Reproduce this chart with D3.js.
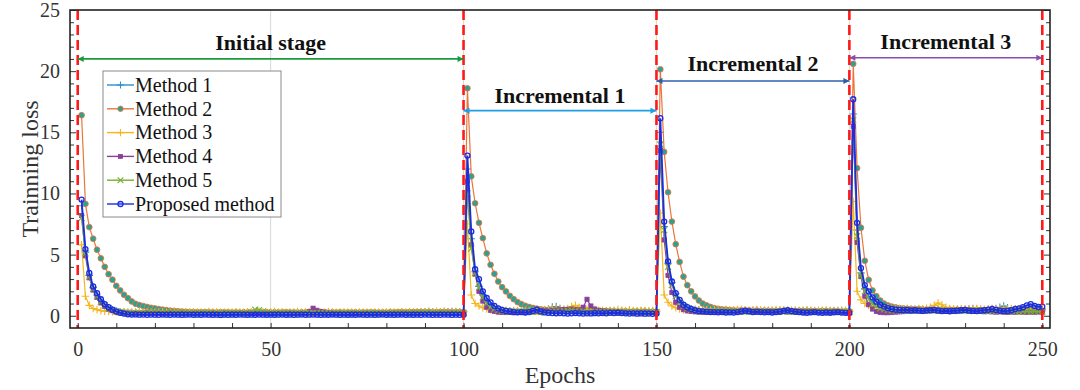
<!DOCTYPE html>
<html><head><meta charset="utf-8">
<script src="https://cdn.jsdelivr.net/npm/d3@7"></script>
<style>body{margin:0;background:#fff}svg{display:block}text{font-family:"Liberation Serif","Times New Roman",serif}</style>
</head><body>
<svg id="chart" width="1080" height="390"></svg>
<script>
// ---------- DATA ----------
const seriesNames = ["Method 1","Method 2","Method 3","Method 4","Method 5","Proposed method"];
const xTickLabels = [0,50,100,150,200,250];
const yTickLabels = [0,5,10,15,20,25];
const stageNames = ["Initial stage","Incremental 1","Incremental 2","Incremental 3"];
const stageStart = [0,100,150,200];
const stageEnd = [100,150,200,250];
const stageArrowLoss = [21.0,16.77,19.2,21.1];
const stageLabelLoss = [21.75,17.4,20.0,21.85];
const boundaryEpochs = [0,100,150,200,250];

const method1 = [
9.0,5.2,3.3,2.3,1.7,1.25,0.9,0.65,0.48,0.38,0.32,0.28,
0.27,0.26,0.28,0.3,0.35,0.45,0.5,0.4,
0.3,0.26,0.25,0.27,0.24,0.26,0.25,0.23,0.25,0.24,
0.25,0.23,0.24,0.26,0.23,0.25,0.24,0.22,0.25,0.23,
0.24,0.25,0.23,0.24,0.26,0.23,0.25,0.24,0.22,0.24,
0.23,0.25,0.24,0.22,0.24,0.25,0.23,0.24,0.26,0.23,
0.24,0.22,0.25,0.23,0.24,0.22,0.24,0.23,0.25,0.22,
0.24,0.23,0.22,0.24,0.23,0.25,0.24,0.22,0.23,0.24,
0.25,0.23,0.24,0.26,0.25,0.27,0.26,0.28,0.3,0.32,
0.34,0.33,0.35,0.32,0.34,0.33,0.35,0.34,0.33,0.35,
12.0,6.3,3.6,2.4,1.7,1.2,0.9,0.7,0.55,0.45,
0.4,0.38,0.4,0.36,0.38,0.35,0.37,0.4,0.45,0.42,
0.45,0.55,0.72,0.76,0.6,0.5,0.45,0.48,0.42,0.4,
0.42,0.38,0.4,0.37,0.39,0.36,0.38,0.4,0.37,0.35,
0.38,0.36,0.4,0.37,0.35,0.38,0.36,0.34,0.36,0.35,
15.0,7.3,4.3,2.7,1.8,1.25,0.9,0.7,0.58,0.5,
0.47,0.45,0.43,0.45,0.42,0.44,0.41,0.43,0.4,0.42,
0.44,0.41,0.43,0.4,0.42,0.45,0.41,0.43,0.4,0.42,
0.41,0.43,0.45,0.42,0.4,0.43,0.41,0.39,0.42,0.4,
0.41,0.39,0.42,0.4,0.38,0.41,0.39,0.42,0.4,0.38,
16.5,7.0,3.5,2.2,1.6,1.2,0.95,0.8,0.7,0.62,
0.58,0.55,0.52,0.55,0.5,0.53,0.5,0.52,0.48,0.5,
0.52,0.55,0.5,0.48,0.5,0.47,0.5,0.52,0.48,0.5,
0.55,0.6,0.52,0.5,0.48,0.52,0.55,0.6,0.7,0.8,
0.65,0.55,0.5,0.52,0.55,0.6,0.7,0.65,0.6,0.55];

const method2 = [
16.4,9.15,7.25,6.3,5.4,4.7,4.0,3.4,2.95,2.45,2.07,1.72,1.44,1.17,0.98,
0.88,0.8,0.72,0.65,0.6,0.55,0.5,0.46,0.42,0.4,0.37,0.35,0.33,0.31,0.3,
0.29,0.28,0.3,0.27,0.28,0.26,0.29,0.27,0.28,0.26,
0.27,0.25,0.28,0.26,0.27,0.25,0.28,0.26,0.27,0.25,
0.28,0.26,0.27,0.29,0.26,0.27,0.25,0.28,0.26,0.27,
0.25,0.28,0.26,0.27,0.25,0.27,0.26,0.28,0.25,0.27,
0.26,0.28,0.25,0.27,0.26,0.28,0.27,0.25,0.27,0.26,
0.28,0.27,0.29,0.3,0.28,0.3,0.29,0.31,0.3,0.29,
0.3,0.28,0.3,0.29,0.31,0.3,0.28,0.3,0.29,0.3,
18.6,11.4,9.2,7.6,6.35,5.1,4.17,3.43,2.8,2.34,1.99,1.63,1.36,1.12,0.95,0.82,0.72,0.64,0.58,0.53,
0.5,0.48,0.45,0.5,0.47,0.45,0.5,0.46,0.43,0.42,
0.4,0.41,0.38,0.4,0.37,0.38,0.36,0.35,0.37,0.34,
0.35,0.36,0.33,0.35,0.34,0.33,0.35,0.32,0.34,0.33,
20.15,13.4,10.1,7.7,5.85,4.4,3.2,2.5,2.0,1.58,1.25,1.0,0.85,0.72,0.63,
0.57,0.52,0.5,0.47,0.45,0.43,0.45,0.42,0.44,0.41,
0.43,0.4,0.42,0.41,0.39,0.41,0.4,0.42,0.39,0.4,
0.38,0.41,0.39,0.4,0.38,0.39,0.37,0.4,0.38,0.36,
0.38,0.37,0.35,0.37,0.36,
20.6,12.07,7.2,4.5,2.94,2.07,1.6,1.25,1.0,0.85,0.75,0.68,
0.62,0.6,0.57,0.55,0.53,0.55,0.52,0.5,0.53,0.51,
0.5,0.52,0.49,0.5,0.48,0.5,0.47,0.49,0.48,0.46,
0.48,0.47,0.45,0.47,0.46,0.44,0.46,0.45,0.43,0.45,
0.44,0.42,0.44,0.43,0.41,0.43,0.42,0.41];

const method3 = [
5.8,1.6,0.85,0.6,0.5,0.42,0.38,0.35,0.33,0.32,
0.3,0.33,0.28,0.31,0.3,0.34,0.29,0.32,0.3,0.28,
0.31,0.33,0.29,0.3,0.35,0.3,0.28,0.32,0.3,0.33,
0.29,0.31,0.28,0.34,0.3,0.32,0.29,0.31,0.3,0.28,
0.33,0.3,0.29,0.32,0.3,0.31,0.35,0.3,0.29,0.31,
0.36,0.3,0.33,0.29,0.31,0.3,0.34,0.28,0.3,0.32,
0.29,0.31,0.3,0.28,0.32,0.3,0.29,0.31,0.3,0.28,
0.3,0.29,0.31,0.28,0.3,0.29,0.31,0.3,0.28,0.3,
0.32,0.3,0.31,0.33,0.3,0.35,0.31,0.33,0.3,0.32,
0.34,0.3,0.33,0.31,0.35,0.32,0.3,0.33,0.31,0.32,
7.5,1.7,1.0,0.8,0.65,0.55,0.5,0.45,
0.42,0.4,0.45,0.4,0.38,0.42,0.4,0.45,0.42,0.4,
0.38,0.42,0.45,0.5,0.55,0.6,0.55,0.5,0.6,0.75,
0.85,0.7,0.55,0.5,0.45,0.5,0.42,0.45,0.4,0.42,
0.45,0.5,0.45,0.42,0.48,0.42,0.4,0.45,0.42,0.4,
0.42,0.38,
8.4,1.7,1.1,0.8,0.65,0.55,0.5,0.48,
0.45,0.5,0.48,0.45,0.5,0.47,0.52,0.48,0.45,0.5,
0.48,0.46,0.5,0.52,0.48,0.45,0.47,0.5,0.46,0.44,
0.47,0.45,0.5,0.48,0.46,0.44,0.47,0.45,0.43,0.46,
0.48,0.45,0.42,0.45,0.43,0.46,0.44,0.42,0.45,0.43,
0.44,0.42,
9.35,2.0,1.3,1.0,0.85,0.75,0.7,0.65,
0.6,0.65,0.62,0.58,0.6,0.57,0.62,0.58,0.55,0.6,
0.58,0.62,0.7,0.85,1.05,0.9,0.7,0.6,0.58,0.55,
0.6,0.57,0.55,0.58,0.6,0.55,0.52,0.58,0.6,0.55,
0.58,0.62,0.55,0.6,0.58,0.52,0.55,0.5,0.52,0.55,
0.5,0.52];

const method4 = [
8.2,4.9,3.1,2.1,1.5,1.05,0.75,0.55,0.42,0.33,0.27,0.23,
0.22,0.2,0.21,0.19,0.2,0.21,0.19,0.2,
0.21,0.19,0.2,0.22,0.2,0.19,0.21,0.2,0.19,0.2,
0.21,0.2,0.19,0.2,0.21,0.19,0.2,0.22,0.2,0.19,
0.2,0.21,0.19,0.2,0.21,0.2,0.19,0.21,0.2,0.19,
0.2,0.21,0.19,0.2,0.22,0.2,0.19,0.21,0.2,0.35,
0.62,0.45,0.35,0.3,0.25,0.22,0.2,0.21,0.19,0.2,
0.21,0.2,0.19,0.2,0.21,0.19,0.2,0.21,0.2,0.19,
0.2,0.21,0.2,0.19,0.21,0.2,0.22,0.2,0.21,0.2,
0.22,0.21,0.2,0.22,0.21,0.2,0.22,0.21,0.2,0.21,
11.0,5.8,3.4,2.0,1.2,0.7,0.45,0.35,0.3,0.28,
0.26,0.27,0.25,0.27,0.26,0.28,0.3,0.32,0.35,0.38,
0.4,0.38,0.42,0.45,0.48,0.5,0.52,0.55,0.5,0.48,
0.7,1.35,0.8,0.55,0.45,0.4,0.38,0.36,0.35,0.33,
0.32,0.3,0.31,0.29,0.3,0.28,0.3,0.29,0.28,0.3,
13.5,6.2,3.3,1.9,1.1,0.7,0.5,0.4,0.35,0.32,
0.3,0.32,0.3,0.33,0.31,0.34,0.32,0.35,0.33,0.36,
0.34,0.36,0.35,0.37,0.34,0.36,0.35,0.33,0.35,0.34,
0.33,0.35,0.34,0.32,0.34,0.33,0.31,0.33,0.32,0.3,
0.32,0.31,0.3,0.32,0.3,0.29,0.31,0.3,0.29,0.3,
15.5,6.0,3.2,1.6,0.9,0.55,0.35,0.28,0.25,0.25,
0.27,0.3,0.32,0.34,0.36,0.38,0.4,0.42,0.4,0.43,
0.45,0.42,0.44,0.4,0.42,0.45,0.43,0.4,0.42,0.44,
0.4,0.38,0.36,0.35,0.33,0.34,0.32,0.3,0.32,0.3,
0.28,0.3,0.29,0.31,0.3,0.28,0.3,0.29,0.31,0.3];

const method5 = [
8.0,5.1,3.2,2.2,1.6,1.15,0.85,0.62,0.47,0.37,0.3,0.26,
0.25,0.24,0.23,0.25,0.24,0.22,0.24,0.23,
0.22,0.24,0.23,0.22,0.24,0.23,0.22,0.23,0.24,0.22,
0.23,0.22,0.24,0.23,0.22,0.24,0.23,0.22,0.23,0.22,
0.23,0.24,0.22,0.23,0.3,0.5,0.45,0.35,0.28,0.24,
0.23,0.22,0.24,0.23,0.22,0.23,0.24,0.22,0.23,0.24,
0.22,0.23,0.24,0.22,0.23,0.22,0.24,0.23,0.22,0.24,
0.23,0.22,0.24,0.23,0.22,0.24,0.23,0.22,0.23,0.24,
0.22,0.23,0.24,0.22,0.23,0.25,0.24,0.23,0.25,0.24,
0.23,0.25,0.24,0.23,0.25,0.24,0.23,0.24,0.25,0.23,
10.0,5.5,3.5,2.3,1.5,1.0,0.7,0.55,0.45,0.4,
0.37,0.35,0.36,0.34,0.35,0.33,0.35,0.32,0.34,0.3,
0.25,0.28,0.32,0.35,0.33,0.38,0.42,0.45,0.4,0.36,
0.34,0.32,0.33,0.31,0.32,0.3,0.32,0.31,0.3,0.32,
0.31,0.3,0.32,0.31,0.3,0.31,0.29,0.3,0.31,0.3,
14.0,7.0,4.0,2.5,1.6,1.1,0.8,0.6,0.48,0.42,
0.38,0.36,0.35,0.37,0.34,0.36,0.35,0.33,0.35,0.34,
0.36,0.34,0.35,0.33,0.35,0.34,0.36,0.35,0.33,0.35,
0.34,0.36,0.35,0.33,0.34,0.32,0.34,0.33,0.31,0.33,
0.32,0.34,0.32,0.31,0.33,0.32,0.3,0.32,0.31,0.3,
16.0,6.5,3.3,2.0,1.35,0.95,0.75,0.6,0.52,0.47,
0.44,0.42,0.45,0.43,0.4,0.42,0.44,0.41,0.43,0.4,
0.42,0.44,0.41,0.43,0.4,0.42,0.39,0.41,0.4,0.42,
0.38,0.4,0.42,0.39,0.41,0.38,0.4,0.37,0.39,0.38,
0.36,0.38,0.37,0.35,0.37,0.36,0.34,0.36,0.35,0.34];

const proposed = [
9.5,5.45,3.5,2.4,1.85,1.35,0.95,0.7,0.5,0.35,0.25,0.18,
0.12,0.1,0.11,0.09,0.1,0.08,0.1,0.09,
0.08,0.1,0.09,0.08,0.1,0.09,0.08,0.09,0.1,0.08,
0.09,0.08,0.1,0.09,0.08,0.09,0.07,0.09,0.08,0.09,
0.08,0.1,0.09,0.08,0.09,0.08,0.1,0.09,0.08,0.09,
0.08,0.09,0.1,0.08,0.09,0.08,0.09,0.1,0.08,0.09,
0.1,0.09,0.08,0.09,0.08,0.1,0.09,0.08,0.09,0.08,
0.09,0.08,0.1,0.09,0.08,0.09,0.08,0.09,0.1,0.08,
0.09,0.08,0.09,0.1,0.08,0.09,0.08,0.09,0.08,0.1,
0.09,0.08,0.09,0.08,0.1,0.09,0.08,0.09,0.08,0.09,
13.1,6.9,3.8,3.0,2.0,1.45,1.1,0.8,0.6,0.48,0.4,0.35,
0.3,0.28,0.3,0.27,0.3,0.4,0.5,0.35,0.28,0.25,
0.22,0.2,0.22,0.2,0.18,0.2,0.22,0.2,0.18,0.2,
0.19,0.21,0.2,0.22,0.2,0.24,0.22,0.25,0.22,0.2,
0.18,0.2,0.17,0.19,0.17,0.18,0.16,0.18,
16.15,7.7,4.45,2.8,1.85,1.3,0.9,0.7,0.55,0.45,
0.38,0.35,0.32,0.3,0.3,0.28,0.3,0.27,0.28,0.26,
0.3,0.35,0.42,0.36,0.3,0.32,0.3,0.28,0.3,0.27,
0.3,0.33,0.4,0.45,0.38,0.33,0.3,0.27,0.25,0.28,
0.3,0.26,0.24,0.27,0.25,0.28,0.3,0.26,0.24,0.22,
17.7,7.6,3.9,2.5,2.0,1.5,1.15,0.9,0.75,0.62,
0.55,0.5,0.48,0.45,0.47,0.43,0.45,0.42,0.4,0.43,
0.45,0.48,0.42,0.38,0.4,0.37,0.4,0.42,0.45,0.48,
0.42,0.4,0.38,0.42,0.45,0.5,0.55,0.48,0.42,0.38,
0.4,0.45,0.55,0.6,0.7,0.85,0.95,0.8,0.72,0.75];

// ---------- CHART ----------
(function(){
const svg = d3.select("#chart");
const pL = 70, pR = 1050, pT = 10, pB = 328;
const x = d3.scaleLinear().domain([-2,252]).range([pL,pR]);
const y = d3.scaleLinear().domain([-1,25]).range([pB,pT]);

const allSeries = [method1,method2,method3,method4,method5,proposed];
const styles = [
  {line:"#2b8fd4", marker:"plus", stroke:"#2b8fd4", fill:"none"},
  {line:"#e8763c", marker:"circle", stroke:"#e8763c", fill:"#23a39a"},
  {line:"#f5b51c", marker:"plus", stroke:"#f5b51c", fill:"none"},
  {line:"#8a3f9a", marker:"square", stroke:"#8a3f9a", fill:"#8a3f9a"},
  {line:"#79ad35", marker:"cross", stroke:"#79ad35", fill:"none"},
  {line:"#1a2de0", marker:"ocircle", stroke:"#1a2de0", fill:"none"}
];

const defs = svg.append("defs");
defs.append("clipPath").attr("id","plotclip").append("rect")
  .attr("x",pL).attr("y",pT).attr("width",pR-pL).attr("height",pB-pT);

svg.append("g").selectAll("line").data([50,100,150,200]).join("line")
  .attr("x1",d=>x(d)).attr("x2",d=>x(d)).attr("y1",pT).attr("y2",pB)
  .attr("stroke","#d9d9d9").attr("stroke-width",1);

function drawMarker(g, type, st, cx, cy, s){
  if(type==="circle"){
    g.append("circle").attr("cx",cx).attr("cy",cy).attr("r",s*0.75)
      .attr("fill",st.fill).attr("stroke",st.stroke).attr("stroke-width",0.9);
  } else if(type==="ocircle"){
    g.append("circle").attr("cx",cx).attr("cy",cy).attr("r",s*0.7)
      .attr("fill","none").attr("stroke",st.stroke).attr("stroke-width",1.3);
  } else if(type==="plus"){
    g.append("path").attr("d",`M${cx-s},${cy}H${cx+s}M${cx},${cy-s}V${cy+s}`)
      .attr("stroke",st.stroke).attr("stroke-width",1.1).attr("fill","none");
  } else if(type==="cross"){
    const k=s*0.8;
    g.append("path").attr("d",`M${cx-k},${cy-k}L${cx+k},${cy+k}M${cx-k},${cy+k}L${cx+k},${cy-k}`)
      .attr("stroke",st.stroke).attr("stroke-width",1.1).attr("fill","none");
  } else if(type==="square"){
    const k=s*0.55;
    g.append("rect").attr("x",cx-k).attr("y",cy-k).attr("width",2*k).attr("height",2*k)
      .attr("fill",st.fill).attr("stroke",st.stroke).attr("stroke-width",0.8);
  }
}

const plot = svg.append("g").attr("clip-path","url(#plotclip)");
const line = d3.line().x((d,i)=>x(i+1)).y(d=>y(d));
allSeries.forEach((data,si)=>{
  const st = styles[si];
  const g = plot.append("g");
  g.append("path").datum(data).attr("d",line).attr("fill","none")
    .attr("stroke",st.line).attr("stroke-width",si===5?1.8:1.2);
  const mg = g.append("g");
  data.forEach((v,i)=>drawMarker(mg, st.marker, st, x(i+1), y(v), si===5?3.6:3.8));
});

svg.append("g").selectAll("line").data(boundaryEpochs).join("line")
  .attr("x1",d=>x(d)).attr("x2",d=>x(d)).attr("y1",pT).attr("y2",pB)
  .attr("stroke","#ff1a1a").attr("stroke-width",2.6).attr("stroke-dasharray","10,5");

const arrowColors = ["#1a9a3c","#1fa0e6","#2f5fa8","#8a4cae"];
arrowColors.forEach((c,i)=>{
  const m = defs.append("marker").attr("id","ah"+i).attr("viewBox","0 0 10 10")
    .attr("refX",10).attr("refY",5).attr("markerWidth",8).attr("markerHeight",6)
    .attr("markerUnits","userSpaceOnUse").attr("orient","auto-start-reverse");
  m.append("path").attr("d","M0,0L10,5L0,10Z").attr("fill",c);
});
const ag = svg.append("g");
stageNames.forEach((name,i)=>{
  ag.append("line").attr("x1",x(stageStart[i])).attr("x2",x(stageEnd[i]))
    .attr("y1",y(stageArrowLoss[i])).attr("y2",y(stageArrowLoss[i]))
    .attr("stroke",arrowColors[i]).attr("stroke-width",1.6)
    .attr("marker-start","url(#ah"+i+")").attr("marker-end","url(#ah"+i+")");
  ag.append("text").attr("x",(x(stageStart[i])+x(stageEnd[i]))/2).attr("y",y(stageLabelLoss[i]))
    .attr("text-anchor","middle").attr("font-weight","bold").attr("font-size",22)
    .attr("fill","#111").text(name);
});

const xAxis = d3.axisBottom(x).tickValues(d3.range(0,251,10)).tickSize(-5)
  .tickPadding(14).tickFormat(d=> xTickLabels.includes(d) ? d : "");
const gx = svg.append("g").attr("transform",`translate(0,${pB})`).call(xAxis);
const yAxis = d3.axisLeft(y).tickValues(d3.range(0,26,1)).tickSize(-4)
  .tickPadding(10).tickFormat(d=> yTickLabels.includes(d) ? d : "");
const gy = svg.append("g").attr("transform",`translate(${pL},0)`).call(yAxis);
const gyr = svg.append("g").attr("transform",`translate(${pR},0)`)
  .call(d3.axisRight(y).tickValues(d3.range(0,26,1)).tickSize(-4).tickFormat(""));
[gx,gy,gyr].forEach(g=>{
  g.select(".domain").remove();
  g.selectAll(".tick line").attr("stroke","#333").attr("stroke-width",1);
  g.selectAll("text").attr("font-size",20).attr("fill","#333")
    .attr("font-family","'Liberation Serif','Times New Roman',serif");
});
gy.selectAll(".tick line").filter(d=>d%5===0).attr("x2",6);
gyr.selectAll(".tick line").filter(d=>d%5===0).attr("x2",-6);

svg.append("rect").attr("x",pL).attr("y",pT).attr("width",pR-pL).attr("height",pB-pT)
  .attr("fill","none").attr("stroke","#222").attr("stroke-width",1.6);

svg.append("text").attr("x",(pL+pR)/2).attr("y",383).attr("text-anchor","middle")
  .attr("font-size",24).attr("fill","#333").text("Epochs");
svg.append("text").attr("transform",`translate(38,${(pT+pB)/2}) rotate(-90)`)
  .attr("text-anchor","middle").attr("font-size",24).attr("fill","#333").text("Trainning loss");

const lg = svg.append("g");
lg.append("rect").attr("x",103).attr("y",71).attr("width",178).attr("height",146)
  .attr("fill","#fff").attr("stroke","#8a8a8a").attr("stroke-width",1);
seriesNames.forEach((n,i)=>{
  const cy = 85 + i*23.8;
  const st = styles[i];
  lg.append("line").attr("x1",107).attr("x2",134).attr("y1",cy).attr("y2",cy)
    .attr("stroke",st.line).attr("stroke-width",1.4);
  drawMarker(lg, st.marker, st, 120.5, cy, 3.6);
  lg.append("text").attr("x",135).attr("y",cy).attr("dy","0.34em")
    .attr("font-size",20).attr("fill","#111").text(n);
});
})();
</script>
</body></html>
